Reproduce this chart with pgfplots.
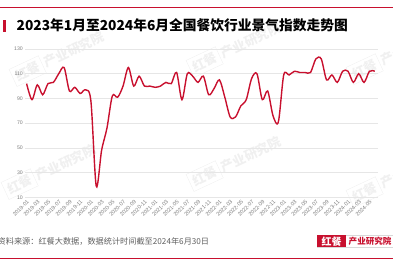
\documentclass[border=0pt]{standalone}
\usepackage{pgfplots}
\pgfplotsset{compat=1.18}
\usepackage{fontspec}
\setmainfont{Liberation Sans}
\newfontfamily\cjk{Noto Sans CJK SC}
\definecolor{hred}{RGB}{200,16,46}
\definecolor{gridc}{RGB}{230,230,230}
\definecolor{tickc}{RGB}{125,125,125}
\definecolor{srcc}{RGB}{95,95,95}
\begin{document}
\begin{tikzpicture}[x=1bp,y=1bp]
\path[use as bounding box] (0,0) rectangle (393,267);
% watermarks
\foreach \px/\py in {58/210, 50/97, 235/219, 235/105, 395/212, 395/89}{
  \node[rotate=25, text=black!6, font=\cjk\bfseries\fontsize{13}{14}\selectfont] at (\px,\py) {\fbox{红餐}\,产业研究院};
}
\draw[hred, line width=0.8bp] (0,260) -- (393,260);
\fill[hred] (2.7,234.5) rectangle (6,247);
\node[anchor=west, inner sep=0, font=\cjk\bfseries\fontsize{13.8}{15}\selectfont] at (16.5,241.5) {2023年1月至2024年6月全国餐饮行业景气指数走势图};
\begin{axis}[at={(25bp,69.7bp)}, anchor=south west, scale only axis,
  width=353bp, height=148.3bp,
  xmin=-0.3, xmax=65.6, ymin=10, ymax=130,
  axis line style={draw=none},
  ytick={10,30,...,130},
  ymajorgrids, grid style={gridc, line width=0.7bp},
  major tick length=0,
  xtick={0,2,...,64},
  xticklabels={2019-01,2019-03,2019-05,2019-07,2019-09,2019-11,2020-01,2020-03,2020-05,2020-07,2020-09,2020-11,2021-01,2021-03,2021-05,2021-07,2021-09,2021-11,2022-01,2022-03,2022-05,2022-07,2022-09,2022-11,2023-01,2023-03,2023-05,2023-07,2023-09,2023-11,2024-01,2024-03,2024-05},
  x tick label style={rotate=45, anchor=north east, font=\fontsize{5.5}{6}\selectfont, text=tickc, inner sep=1.5bp},
  y tick label style={font=\fontsize{5.2}{6}\selectfont, text=tickc, inner sep=2bp},
  /pgf/number format/assume math mode=true,
  clip=false]
\addplot[hred, line width=1.4bp, smooth, tension=0.5] coordinates {
(0,102) (1,89) (2,101) (3,93) (4,102) (5,103) (6,110) (7,115) (8,96) (9,99)
(10,94) (11,97) (12,88) (13,19) (14,48) (15,66) (16,92) (17,91) (18,100) (19,115)
(20,100) (21,108) (22,100) (23,100) (24,99) (25,100) (26,103) (27,102) (28,111) (29,89)
(30,110) (31,108) (32,103) (33,108) (34,93) (35,98) (36,105) (37,91) (38,75) (39,75)
(40,84) (41,89) (42,106) (43,110) (44,89) (45,96) (46,76) (47,71) (48,109) (49,109)
(50,112) (51,111) (52,111) (53,111) (54,122) (55,122) (56,105) (57,109) (58,103) (59,112)
(60,112) (61,103) (62,110) (63,103) (64,112) (65,112)
};
\end{axis}
\node[anchor=west, inner sep=0, text=srcc, font=\cjk\fontsize{8.2}{9}\selectfont] at (-2.5,26) {资料来源：红餐大数据，数据统计时间截至2024年6月30日};
\draw[black!15, line width=0.5bp] (317,20) rectangle (396,31.5);
\fill[hred] (317,20) rectangle (346,31.5);
\node[text=white, inner sep=0, font=\cjk\bfseries\fontsize{10}{11}\selectfont] at (331.5,25.7) {红餐};
\node[anchor=west, inner sep=0, text=hred, font=\cjk\bfseries\fontsize{8.6}{9}\selectfont] at (348.5,25.7) {产业研究院};
\draw[hred, line width=1.5bp] (0,8.5) -- (393,8.5);
\end{tikzpicture}
\end{document}
